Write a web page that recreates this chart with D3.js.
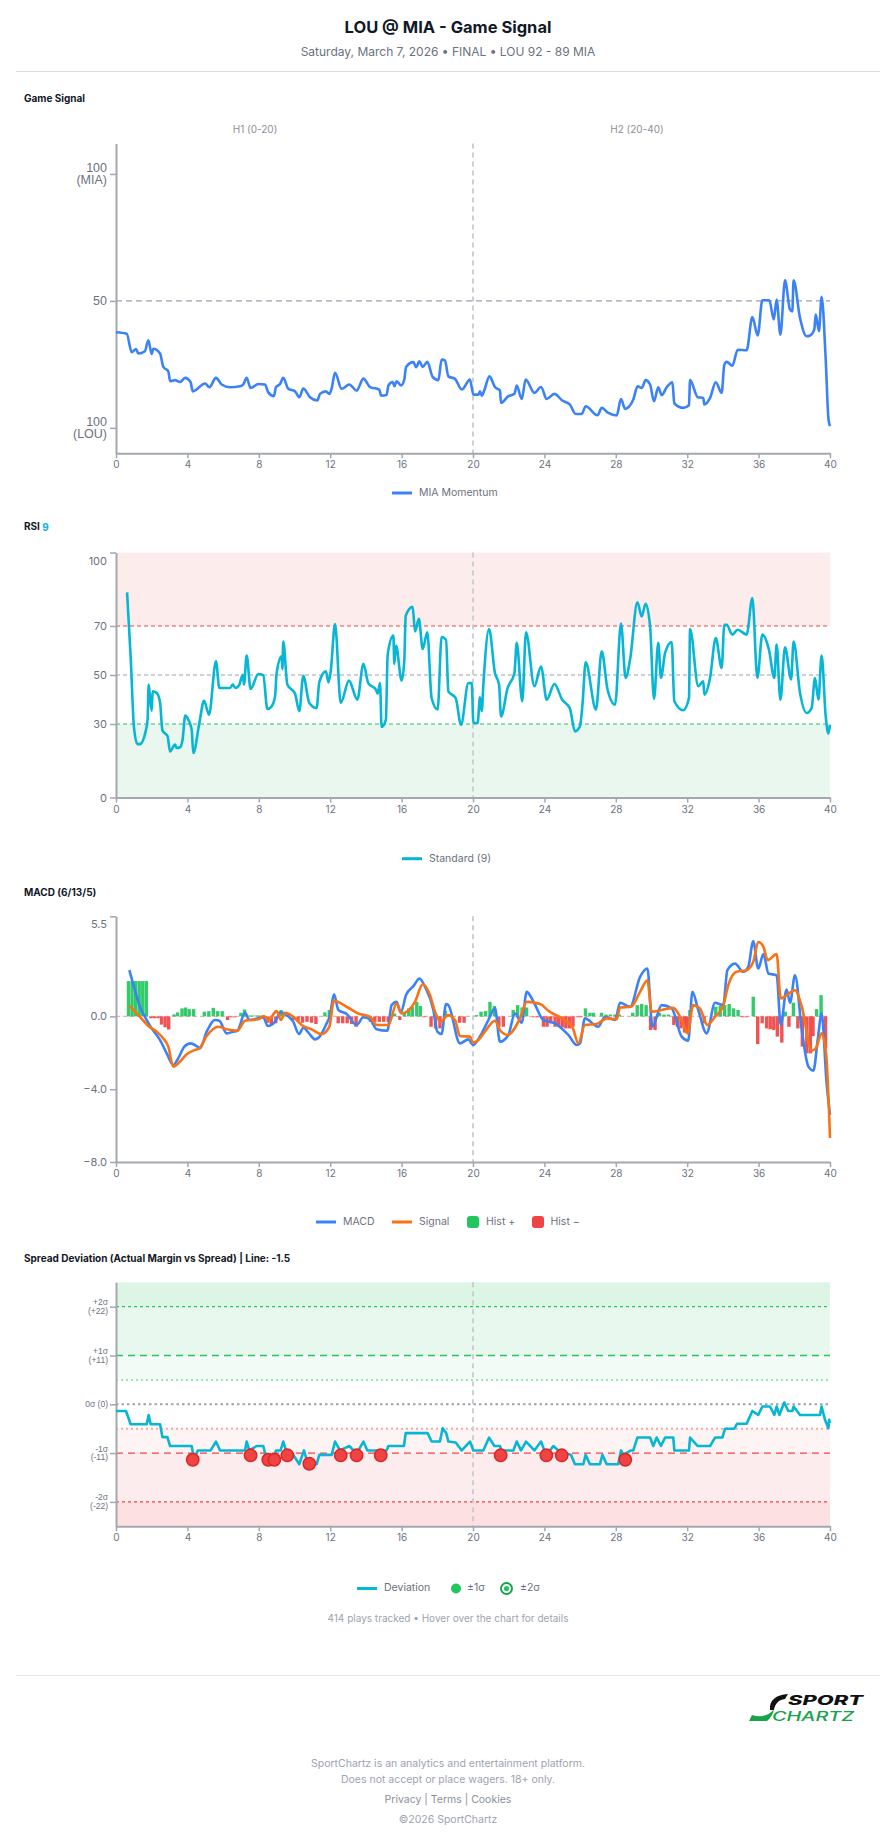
<!DOCTYPE html>
<html><head><meta charset="utf-8">
<script src="https://cdn.jsdelivr.net/npm/d3@7"></script>
<style>
body{margin:0;background:#fff;}
svg{display:block;font-family:Inter,"Noto Sans",sans-serif;}
</style></head><body>
<svg id="c" width="896" height="1845"></svg>
<script>
// ---------------- DATA ----------------
const xTicks = [0,4,8,12,16,20,24,28,32,36,40];
const halfLabels = ["H1 (0-20)", "H2 (20-40)"];
const momentumTicks = [100, 50, 0];
const momentumTickLabels = [["100","(MIA)"],["50"],["100","(LOU)"]];
// [game minute, MIA momentum 0..100]
const momentum = [
[0,37.7],[0.6,37.1],[0.88,29.8],[1.12,31.1],[1.25,29.3],[1.62,30.2],[1.81,34.5],[2.0,29.1],[2.09,31.2],[2.47,29.3],[2.65,24.0],[2.93,22.3],[3.03,18.4],[3.3,18.8],[3.59,18.1],[3.87,19.7],[4.18,18.0],[4.3,14.4],[4.99,17.5],[5.23,16.0],[5.6,19.7],[5.92,17.1],[6.39,16.0],[6.95,16.4],[7.13,17.1],[7.32,19.7],[7.54,15.7],[7.97,17.3],[8.35,17.1],[8.53,14.0],[8.85,12.5],[8.96,16.0],[9.19,17.3],[9.37,19.7],[9.65,15.4],[10.03,14.4],[10.27,12.1],[10.49,15.5],[10.87,12.1],[11.28,10.8],[11.43,13.4],[11.76,14.4],[11.95,13.4],[12.08,15.5],[12.27,21.7],[12.64,15.4],[13.07,17.1],[13.48,14.7],[13.86,19.4],[14.23,16.1],[14.75,15.1],[14.85,12.7],[15.16,13.0],[15.26,16.7],[15.5,18.1],[15.6,16.4],[15.72,18.4],[15.97,16.7],[16.15,19.0],[16.25,24.0],[16.66,25.9],[16.81,23.9],[17.0,26.2],[17.18,24.0],[17.44,26.0],[17.74,20.1],[18.06,18.8],[18.24,26.9],[18.43,26.6],[18.62,20.3],[18.99,19.3],[19.37,15.1],[19.83,19.0],[20.02,13.1],[20.3,13.1],[20.39,14.4],[20.49,12.7],[20.63,14.7],[20.92,20.3],[21.23,16.1],[21.51,14.7],[21.57,9.8],[21.98,12.5],[22.32,13.4],[22.45,16.7],[22.73,11.4],[22.95,19.0],[23.44,13.8],[23.81,16.1],[24.13,11.4],[24.56,13.4],[25.0,10.8],[25.43,9.2],[25.75,5.5],[26.09,5.5],[26.31,8.5],[26.98,5.0],[27.21,7.9],[27.58,5.9],[28.05,4.9],[28.29,11.4],[28.52,7.5],[28.98,11.2],[29.22,16.4],[29.45,15.7],[29.67,18.8],[29.92,17.1],[30.14,10.5],[30.38,16.0],[30.57,12.9],[30.85,16.0],[31.17,18.0],[31.28,9.6],[31.78,7.9],[32.1,8.9],[32.16,18.8],[32.59,12.1],[32.9,11.8],[32.96,9.2],[33.28,11.8],[33.6,18.0],[33.93,13.8],[34.08,24.9],[34.21,26.0],[34.53,24.5],[34.83,30.8],[35.33,30.6],[35.65,43.7],[35.95,36.4],[36.21,50.3],[36.6,50.3],[36.85,42.7],[37.01,50.5],[37.22,36.7],[37.48,58.1],[37.76,46.6],[37.89,45.9],[37.96,58.1],[38.32,43.3],[38.69,36.1],[38.88,36.4],[39.12,38.7],[39.2,44.6],[39.38,38.1],[39.53,51.6],[39.76,26.9],[39.91,3.9],[40.0,0.7]
];

const rsiTicks = [0,30,50,70,100];
// [game minute, RSI(9)]
const rsi = [
[0.62,83.7],[0.82,57.6],[1.01,28.4],[1.2,21.8],[1.34,21.8],[1.66,27.0],[1.77,31.8],[1.83,46.1],[1.9,41.3],[2.0,35.4],[2.05,43.3],[2.28,42.7],[2.47,38.6],[2.6,27.4],[2.89,25.0],[3.03,18.8],[3.31,21.6],[3.4,20.2],[3.59,20.5],[3.73,23.6],[3.88,33.4],[4.05,31.8],[4.24,27.7],[4.33,18.2],[4.67,30.4],[4.93,39.5],[5.21,33.8],[5.6,55.6],[5.79,44.7],[6.39,44.7],[6.54,46.1],[6.69,44.7],[6.91,46.1],[7.1,50.1],[7.17,46.1],[7.32,57.9],[7.54,44.3],[7.97,50.4],[8.25,49.9],[8.48,36.1],[8.72,37.2],[8.91,41.3],[9.0,50.8],[9.28,57.6],[9.32,52.4],[9.37,63.7],[9.6,46.1],[10.03,42.4],[10.27,35.2],[10.49,49.7],[10.83,38.6],[11.24,36.5],[11.39,47.1],[11.76,51.5],[11.9,47.0],[12.03,51.5],[12.27,70.8],[12.59,38.6],[13.05,47.7],[13.52,39.9],[13.86,54.6],[14.13,46.7],[14.56,44.0],[14.66,42.4],[14.79,46.7],[14.88,28.8],[15.12,31.8],[15.22,58.3],[15.54,66.1],[15.59,54.5],[15.69,62.0],[16.0,47.7],[16.15,55.6],[16.23,74.2],[16.62,77.8],[16.75,67.8],[16.97,72.9],[17.18,60.6],[17.44,67.4],[17.68,40.6],[18.02,35.9],[18.24,65.5],[18.49,64.4],[18.62,43.3],[19.03,40.6],[19.33,29.7],[19.74,46.7],[19.93,46.7],[20.02,30.4],[20.26,30.4],[20.39,40.9],[20.49,35.2],[20.58,46.1],[20.9,68.8],[21.23,50.8],[21.46,46.1],[21.57,33.1],[21.94,44.7],[22.32,50.8],[22.45,63.1],[22.76,39.3],[22.97,67.4],[23.44,45.4],[23.81,53.5],[24.13,39.9],[24.56,46.3],[25.0,39.9],[25.43,36.3],[25.71,27.0],[25.99,29.0],[26.14,38.6],[26.31,55.2],[26.89,35.9],[27.21,59.7],[27.54,44.0],[27.96,37.9],[28.29,71.0],[28.55,48.8],[28.8,56.3],[29.21,79.7],[29.45,73.9],[29.67,79.1],[29.92,69.9],[30.14,40.2],[30.38,63.1],[30.53,48.8],[30.76,59.0],[31.13,63.5],[31.28,39.3],[31.78,35.6],[32.1,40.6],[32.16,68.8],[32.62,45.4],[32.9,47.4],[32.96,42.0],[33.28,48.8],[33.6,65.1],[33.93,52.9],[34.08,70.5],[34.21,70.5],[34.53,66.5],[34.83,68.5],[35.33,66.5],[35.65,81.4],[35.93,48.8],[36.21,66.5],[36.58,60.3],[36.88,48.8],[37.01,62.4],[37.22,39.9],[37.48,61.3],[37.82,48.2],[37.96,63.7],[38.32,42.7],[38.69,34.5],[38.97,36.5],[39.16,48.8],[39.35,39.9],[39.53,57.9],[39.76,33.1],[39.91,26.1],[40.0,29.7]
];

const macdTicks = [5.5, 0, -4, -8];
// [game minute, MACD]
const macd = [
[0.75,2.54],[1.06,1.44],[1.34,0.53],[1.72,-0.2],[2.0,-0.66],[2.47,-1.3],[2.84,-2.03],[3.21,-2.67],[3.49,-2.3],[3.83,-1.66],[4.18,-1.48],[4.52,-1.63],[4.71,-1.75],[5.08,-0.84],[5.55,-0.2],[5.79,-0.24],[6.2,-0.93],[6.57,-0.84],[6.8,-0.79],[7.23,0.2],[7.47,-0.2],[8.25,-0.05],[8.5,-0.53],[8.91,-0.29],[9.22,0.22],[9.56,0.07],[9.93,-0.29],[10.25,-0.97],[10.5,-0.62],[10.78,-0.89],[11.15,-1.26],[11.43,-1.08],[11.76,-0.47],[11.99,0.07],[12.21,1.22],[12.46,0.35],[12.92,0.13],[13.48,-0.47],[13.86,-0.05],[14.23,-0.16],[14.6,-0.71],[15.2,-0.79],[15.44,0.62],[15.72,0.8],[15.95,0.2],[16.25,1.17],[16.66,1.66],[17.0,2.08],[17.31,1.63],[17.78,0.35],[18.0,-0.84],[18.24,-0.97],[18.49,0.68],[18.62,0.62],[19.27,-1.48],[19.74,-1.26],[20.0,-1.57],[20.49,-0.93],[20.86,-0.2],[21.23,0.44],[21.51,-1.39],[21.98,-1.02],[22.35,0.16],[22.73,-0.35],[23.01,1.35],[23.44,0.71],[23.94,-0.2],[24.59,-0.38],[25.34,-1.02],[25.81,-1.57],[26.0,-1.48],[26.27,-0.11],[27.02,-0.57],[27.39,-0.02],[27.96,-0.2],[28.24,0.75],[28.8,0.53],[29.36,2.17],[29.77,2.63],[30.05,-0.57],[30.57,0.62],[31.13,0.44],[31.69,-1.11],[32.06,-1.33],[32.29,1.35],[32.62,0.35],[33.09,-0.93],[33.56,0.75],[34.02,0.62],[34.25,2.54],[34.68,2.9],[35.14,2.45],[35.42,2.72],[35.7,4.13],[35.98,2.63],[36.27,3.42],[36.55,2.36],[37.01,2.26],[37.24,-0.47],[37.57,1.48],[37.76,0.75],[38.04,2.26],[38.42,-0.75],[38.79,-2.76],[39.07,-2.98],[39.31,-1.3],[39.53,0.16],[39.81,-3.67],[40.0,-5.41]
];
// [game minute, Signal]
const signal = [
[0.75,0.57],[1.34,-0.02],[1.81,-0.53],[2.28,-0.84],[2.65,-1.21],[2.93,-1.66],[3.21,-2.76],[3.59,-2.48],[3.96,-2.08],[4.33,-1.88],[4.67,-1.75],[5.08,-1.08],[5.73,-0.57],[6.2,-0.71],[6.8,-0.79],[7.23,-0.24],[7.97,-0.16],[8.29,0.02],[8.53,-0.2],[9.0,0.29],[9.24,-0.2],[9.47,0.2],[9.93,-0.02],[10.4,-0.47],[10.96,-0.71],[11.52,-0.97],[11.95,-0.57],[12.21,0.86],[12.92,0.53],[13.57,0.16],[14.23,-0.02],[14.6,-0.47],[15.26,-0.47],[15.72,0.71],[16.0,0.16],[16.75,0.8],[17.18,1.77],[17.59,1.17],[17.87,0.26],[18.19,-0.29],[18.6,0.07],[18.99,-0.2],[19.27,-1.08],[19.83,-1.11],[20.0,-1.44],[20.3,-1.3],[20.67,-0.84],[21.23,-0.24],[21.51,-0.75],[21.94,-1.02],[22.63,-0.11],[23.01,0.8],[23.76,0.68],[24.22,0.31],[24.97,-0.11],[25.56,-0.57],[25.9,-1.48],[26.27,-0.47],[26.93,-0.42],[27.49,-0.11],[28.05,-0.16],[28.24,0.49],[28.85,0.53],[29.36,1.35],[29.77,1.99],[30.01,0.26],[30.57,0.35],[31.22,0.47],[31.69,-0.2],[32.02,-0.93],[32.34,0.62],[32.71,0.44],[33.13,-0.47],[33.56,-0.02],[34.02,0.57],[34.3,1.72],[34.77,2.45],[35.33,2.54],[35.7,3.0],[35.98,4.09],[36.27,3.82],[36.51,3.09],[37.01,3.42],[37.24,0.99],[38.04,1.44],[38.42,0.53],[38.97,-1.88],[39.21,-1.75],[39.53,-0.93],[39.78,-2.03],[40.0,-6.68]
];
// [game minute, histogram]
const hist = [
[0.7,1.94],[0.9,1.94],[1.1,1.94],[1.3,1.94],[1.5,1.94],[1.7,1.94],[1.95,-0.1],[2.15,-0.1],[2.35,-0.1],[2.55,-0.45],[2.75,-0.6],[2.95,-0.72],
[3.25,0.11],[3.45,0.22],[3.7,0.44],[3.9,0.49],[4.1,0.4],[4.35,0.4],[4.95,0.26],[5.2,0.29],[5.45,0.47],[5.7,0.29],[5.95,0.29],
[6.25,-0.2],[6.45,-0.05],[6.65,-0.05],[7.0,0.2],[7.2,0.38],[7.45,0.05],[7.65,0.05],[7.85,0.05],[8.05,0.05],[8.25,0.05],
[8.5,-0.35],[8.7,-0.42],[8.95,-0.38],[9.25,0.35],[9.95,-0.2],[10.2,-0.27],[10.45,-0.35],[10.7,-0.3],[10.95,-0.35],[11.2,-0.42],
[11.7,0.22],[11.95,0.35],[12.45,-0.38],[12.7,-0.38],[12.95,-0.38],[13.2,-0.42],[13.45,-0.57],
[14.25,-0.3],[14.5,-0.3],[14.75,-0.3],[15.0,-0.3],[15.25,-0.3],[15.6,0.16],[15.9,-0.2],
[16.15,0.26],[16.4,0.44],[16.6,0.53],[16.85,0.8],[17.05,0.57],[17.25,-0.05],[17.65,-0.57],[17.9,-0.66],[18.15,-0.66],[18.45,0.3],
[19.25,-0.35],[19.5,-0.35],[20.2,0.07],[20.45,0.26],[20.7,0.29],[20.95,0.8],[21.2,0.57],[21.45,-0.57],[21.7,-0.57],
[22.25,0.35],[22.5,0.62],[22.75,0.49],[23.0,0.49],[23.4,-0.05],[23.6,-0.05],
[23.95,-0.57],[24.15,-0.57],[24.35,-0.38],[24.6,-0.57],[24.8,-0.57],[25.0,-0.6],[25.2,-0.66],[25.4,-0.66],[25.6,-0.57],[25.85,-0.05],[26.05,-0.05],
[26.3,0.44],[26.55,0.2],[26.75,0.2],[27.2,0.2],[27.45,0.1],[27.7,0.1],[27.95,0.1],[28.2,0.1],
[28.95,0.2],[29.2,0.62],[29.45,0.68],[29.7,0.62],[29.95,-0.75],[30.2,-0.75],[30.45,0.2],[30.7,0.1],[30.95,0.1],
[31.25,-0.47],[31.45,-0.57],[31.65,-0.66],[31.85,-0.89],[32.0,-0.93],[32.15,0.35],[32.95,-0.38],
[33.6,0.53],[33.85,0.57],[34.1,0.62],[34.35,0.68],[34.6,0.44],[34.85,0.35],[35.1,-0.05],[35.3,-0.05],[35.7,1.08],
[35.95,-1.52],[36.2,-0.38],[36.45,-0.66],[36.65,-0.71],[36.85,-0.75],[37.05,-1.11],[37.3,-1.44],[37.5,0.26],[37.7,-0.57],[37.95,0.75],
[38.2,-0.66],[38.45,-1.66],[38.7,-2.03],[38.9,-2.03],[39.05,-1.08],[39.25,0.4],[39.5,1.17],[39.75,-1.75]
];

const spreadTicks = [22, 11, 0, -11, -22];
const spreadTickLabels = [["+2σ","(+22)"],["+1σ","(+11)"],["0σ (0)"],["-1σ","(-11)"],["-2σ","(-22)"]];
// [game minute, deviation (actual margin vs spread)]
const deviation = [
[0,-1.5],[0.56,-1.5],[0.82,-4.5],[1.72,-4.5],[1.83,-2.4],[1.94,-4.5],[2.47,-4.5],[2.6,-7.4],[2.88,-7.4],[3.03,-9.4],[4.24,-9.4],[4.37,-12.5],[4.58,-10.4],[5.3,-10.4],[5.6,-8.4],[5.83,-10.4],[7.23,-10.4],[7.32,-8.4],[7.47,-10.4],[7.88,-9.4],[8.25,-9.4],[8.44,-12.5],[8.85,-12.5],[8.96,-10.4],[9.22,-10.4],[9.37,-8.4],[9.52,-10.4],[9.93,-11.4],[10.27,-13.5],[10.53,-10.4],[10.68,-12.5],[11.24,-13.5],[11.39,-11.4],[12.08,-11.4],[12.27,-8.4],[12.55,-10.4],[13.07,-9.4],[13.3,-10.4],[13.58,-10.4],[13.86,-8.4],[14.08,-10.4],[15.16,-10.4],[15.26,-9.4],[16.13,-9.4],[16.23,-6.5],[17.46,-6.5],[17.68,-8.4],[18.15,-8.4],[18.3,-5.4],[18.5,-6.5],[18.62,-8.4],[19.03,-8.6],[19.37,-10.4],[19.83,-8.4],[20.02,-10.4],[20.58,-10.4],[20.9,-7.5],[21.2,-9.4],[21.51,-9.4],[21.6,-10.4],[22.26,-10.4],[22.45,-8.4],[22.69,-10.4],[22.97,-8.4],[23.44,-10.4],[23.81,-8.4],[24.09,-11.4],[24.31,-10.4],[24.5,-9.4],[24.78,-10.4],[25.49,-11.4],[25.71,-13.5],[26.18,-13.5],[26.31,-11.4],[26.55,-13.5],[27.11,-13.5],[27.25,-11.4],[27.49,-13.5],[28.14,-13.5],[28.29,-10.4],[28.42,-11.4],[28.85,-10.4],[28.98,-10.4],[29.21,-7.5],[29.92,-7.5],[30.1,-9.4],[30.29,-7.5],[30.53,-9.4],[30.76,-7.5],[31.22,-7.5],[31.28,-10.4],[32.1,-10.4],[32.16,-7.5],[32.59,-9.4],[33.28,-9.4],[33.56,-7.5],[33.97,-7.5],[34.12,-5.5],[34.64,-5.5],[34.79,-4.4],[35.33,-4.4],[35.65,-1.5],[35.98,-2.4],[36.21,-0.5],[36.64,-0.5],[36.88,-2.4],[37.01,-0.5],[37.16,-2.4],[37.44,0.4],[37.66,-1.5],[37.89,-1.5],[37.96,-0.5],[38.32,-2.4],[39.44,-2.4],[39.53,-0.5],[39.72,-3.5],[39.91,-5.4],[39.95,-3.5],[40.0,-4.3]
];
// [game minute, deviation] for the -1σ alert plays
const alerts = [
[4.3,-12.5],[7.54,-11.5],[8.53,-12.5],[8.87,-12.5],[9.6,-11.5],[10.83,-13.4],[12.59,-11.5],[13.48,-11.5],[14.83,-11.5],[21.55,-11.5],[24.11,-11.5],[24.97,-11.5],[28.53,-12.5]
];

// ---------------- DRAW ----------------
const svg = d3.select('#c');
svg.append('rect').attr('width',896).attr('height',1845).attr('fill','#fff');
const X0 = 116, X1 = 830;
const x = d3.scaleLinear().domain([0,40]).range([X0, X1]);
const AX = '#a3a7ae', LBL = '#6b7280';

function styleAxis(g, fs){
  g.select('.domain').attr('stroke', AX).attr('stroke-width', 2);
  g.selectAll('.tick line').attr('stroke', AX).attr('stroke-width', 1.5);
  g.selectAll('.tick text').attr('fill', LBL).attr('font-size', fs).attr('font-family','Inter,sans-serif');
}
function xAxis(yPos){
  const g = svg.append('g').attr('transform',`translate(0,${yPos})`)
    .call(d3.axisBottom(x).tickValues(xTicks).tickSize(5).tickSizeOuter(0).tickPadding(3));
  styleAxis(g, 10);
}
function halfLine(y){
  svg.append('line').attr('x1',x(20)).attr('x2',x(20)).attr('y1',y.range()[1]).attr('y2',y.range()[0])
    .attr('stroke','#c9cbd0').attr('stroke-width',1.8).attr('stroke-dasharray','5,4');
}
function hline(y, v, color, dash, w){
  svg.append('line').attr('x1',X0).attr('x2',X1).attr('y1',y(v)).attr('y2',y(v))
    .attr('stroke',color).attr('stroke-width',w||1.2).attr('stroke-dasharray',dash);
}
function sectionTitle(txt, yPos){
  return svg.append('text').attr('x',24).attr('y',yPos).attr('dominant-baseline','middle')
    .attr('font-size',10).attr('font-weight',700).attr('fill','#111827').text(txt);
}
function legendLine(x0, yPos, color, label){
  svg.append('line').attr('x1',x0).attr('x2',x0+20).attr('y1',yPos).attr('y2',yPos)
    .attr('stroke',color).attr('stroke-width',3);
  svg.append('text').attr('x',x0+27).attr('y',yPos).attr('dominant-baseline','middle')
    .attr('font-size',10.5).attr('fill',LBL).text(label);
}

// Header
svg.append('text').attr('x',448).attr('y',28).attr('text-anchor','middle').attr('dominant-baseline','middle')
  .attr('font-size',16.5).attr('font-weight',700).attr('fill','#111827').text('LOU @ MIA - Game Signal');
svg.append('text').attr('x',448).attr('y',52.5).attr('text-anchor','middle').attr('dominant-baseline','middle')
  .attr('font-size',12).attr('fill','#6b7280').text('Saturday, March 7, 2026 • FINAL • LOU 92 - 89 MIA');
svg.append('line').attr('x1',16).attr('x2',880).attr('y1',71.5).attr('y2',71.5).attr('stroke','#d9dbe0').attr('stroke-width',1);

// ===== Chart 1: Game Signal =====
sectionTitle('Game Signal', 99);
const y1 = d3.scaleLinear().domain([-10,112]).range([453.3,143.5]);
svg.append('text').attr('x',255).attr('y',130.5).attr('text-anchor','middle').attr('dominant-baseline','middle')
  .attr('font-size',10).attr('fill','#8b9099').text(halfLabels[0]);
svg.append('text').attr('x',637).attr('y',130.5).attr('text-anchor','middle').attr('dominant-baseline','middle')
  .attr('font-size',10).attr('fill','#8b9099').text(halfLabels[1]);
hline(y1, 50, '#9ca3af', '6,4', 1.2);
halfLine(y1);
{
  const g = svg.append('g').attr('transform',`translate(${X0},0)`)
    .call(d3.axisLeft(y1).tickValues(momentumTicks).tickSize(6).tickSizeOuter(0).tickFormat(''));
  styleAxis(g, 12);
  g.selectAll('.tick').each(function(d,i){
    const lines = momentumTickLabels[i];
    const t = d3.select(this).append('text').attr('fill',LBL).attr('font-size',12.5)
      .attr('text-anchor','end').attr('dominant-baseline','middle');
    if(lines.length===1){ t.attr('x',-9).attr('y',0).text(lines[0]); }
    else {
      t.append('tspan').attr('x',-9).attr('y',-5.5).text(lines[0]);
      t.append('tspan').attr('x',-9).attr('y',6.5).text(lines[1]);
    }
  });
}
xAxis(453.3);
svg.append('path').datum(momentum)
  .attr('d', d3.line().x(d=>x(d[0])).y(d=>y1(d[1])).curve(d3.curveMonotoneX))
  .attr('fill','none').attr('stroke','#3b82f6').attr('stroke-width',2.6).attr('stroke-linejoin','round');
legendLine(392, 493, '#3b82f6', 'MIA Momentum');

// ===== Chart 2: RSI =====
{
  const t = sectionTitle('RSI ', 527.5);
  t.append('tspan').attr('fill','#06b6d4').text('9');
}
const y2 = d3.scaleLinear().domain([0,100]).range([797.5,552.5]);
svg.append('rect').attr('x',X0).attr('width',X1-X0).attr('y',y2(100)).attr('height',y2(70)-y2(100)).attr('fill','#fdecec');
svg.append('rect').attr('x',X0).attr('width',X1-X0).attr('y',y2(30)).attr('height',y2(0)-y2(30)).attr('fill','#e9f7ee');
hline(y2, 70, '#ef4444', '4,3', 1.2);
hline(y2, 50, '#9ca3af', '4,3', 1.2);
hline(y2, 30, '#22c55e', '4,3', 1.2);
halfLine(y2);
{
  const g = svg.append('g').attr('transform',`translate(${X0},0)`)
    .call(d3.axisLeft(y2).tickValues(rsiTicks).tickSize(6).tickSizeOuter(0).tickPadding(3));
  styleAxis(g, 11);
  g.selectAll('.tick text').filter(d=>d===100).attr('dy','1.05em');
}
xAxis(797.5);
svg.append('path').datum(rsi)
  .attr('d', d3.line().x(d=>x(d[0])).y(d=>y2(d[1])).curve(d3.curveMonotoneX))
  .attr('fill','none').attr('stroke','#06b6d4').attr('stroke-width',2.6).attr('stroke-linejoin','round');
legendLine(402, 858.7, '#06b6d4', 'Standard (9)');

// ===== Chart 3: MACD =====
sectionTitle('MACD (6/13/5)', 893);
const y3 = d3.scaleLinear().domain([-8,5.5]).range([1162,916.3]);
hline(y3, 0, '#e3b3b6', '4,3', 1.2);
halfLine(y3);
const bw = x(0.19) - x(0);
svg.append('g').selectAll('rect').data(hist).join('rect')
  .attr('x', d=>x(d[0]) - bw/2).attr('width', bw)
  .attr('y', d=>Math.min(y3(d[1]), y3(0))).attr('height', d=>Math.abs(y3(d[1]) - y3(0)))
  .attr('fill', d=>d[1]>=0 ? '#22c55e' : '#ef4444').attr('opacity',0.92);
{
  const g = svg.append('g').attr('transform',`translate(${X0},0)`)
    .call(d3.axisLeft(y3).tickValues(macdTicks).tickSize(6).tickSizeOuter(0).tickPadding(3).tickFormat(d3.format('.1f')));
  styleAxis(g, 11);
  g.selectAll('.tick text').filter(d=>d===5.5).attr('dy','1.0em');
}
xAxis(1162);
svg.append('path').datum(macd)
  .attr('d', d3.line().x(d=>x(d[0])).y(d=>y3(d[1])).curve(d3.curveMonotoneX))
  .attr('fill','none').attr('stroke','#3b82f6').attr('stroke-width',2.6).attr('stroke-linejoin','round');
svg.append('path').datum(signal)
  .attr('d', d3.line().x(d=>x(d[0])).y(d=>y3(d[1])).curve(d3.curveMonotoneX))
  .attr('fill','none').attr('stroke','#f97316').attr('stroke-width',2.6).attr('stroke-linejoin','round');
legendLine(316, 1222, '#3b82f6', 'MACD');
legendLine(392, 1222, '#f97316', 'Signal');
svg.append('rect').attr('x',467).attr('y',1216).attr('width',12).attr('height',12).attr('rx',3).attr('fill','#22c55e');
svg.append('text').attr('x',486).attr('y',1222).attr('dominant-baseline','middle').attr('font-size',10.5).attr('fill',LBL).text('Hist +');
svg.append('rect').attr('x',532).attr('y',1216).attr('width',12).attr('height',12).attr('rx',3).attr('fill','#ef4444');
svg.append('text').attr('x',550.5).attr('y',1222).attr('dominant-baseline','middle').attr('font-size',10.5).attr('fill',LBL).text('Hist −');

// ===== Chart 4: Spread Deviation =====
sectionTitle('Spread Deviation (Actual Margin vs Spread) | Line: -1.5', 1259);
const y4 = d3.scaleLinear().domain([-27.5,27.5]).range([1526.3,1282.3]);
const bands = [[22,27.5,'#dcf5e4'],[11,22,'#e8f8ee'],[5.5,11,'#f3fbf6'],[-11,-5.5,'#fef4f4'],[-22,-11,'#fdeced'],[-27.5,-22,'#fde0e2']];
bands.forEach(b=>{
  svg.append('rect').attr('x',X0).attr('width',X1-X0).attr('y',y4(b[1])).attr('height',y4(b[0])-y4(b[1])).attr('fill',b[2]);
});
hline(y4, 22, '#22c55e', '3,3', 1.2);
hline(y4, 11, '#22c55e', '7,5', 1.3);
hline(y4, 5.5, '#86efac', '2,3', 2);
hline(y4, 0, '#9ca3af', '2.5,3', 2);
hline(y4, -5.5, '#fca5a5', '2,3', 2);
hline(y4, -11, '#ef4444', '7,5', 1.2);
hline(y4, -22, '#ef4444', '3,3', 1.2);
halfLine(y4);
{
  const g = svg.append('g').attr('transform',`translate(${X0},0)`)
    .call(d3.axisLeft(y4).tickValues(spreadTicks).tickSize(6).tickSizeOuter(0).tickFormat(''));
  styleAxis(g, 8.5);
  g.selectAll('.tick').each(function(d,i){
    const lines = spreadTickLabels[i];
    const t = d3.select(this).append('text').attr('fill',LBL).attr('font-size',8.5)
      .attr('text-anchor','end').attr('dominant-baseline','middle');
    if(lines.length===1){ t.attr('x',-8).attr('y',0).text(lines[0]); }
    else {
      t.append('tspan').attr('x',-8).attr('y',-4).text(lines[0]);
      t.append('tspan').attr('x',-8).attr('y',4.5).text(lines[1]);
    }
  });
}
xAxis(1526.3);
svg.append('path').datum(deviation)
  .attr('d', d3.line().x(d=>x(d[0])).y(d=>y4(d[1])))
  .attr('fill','none').attr('stroke','#06b6d4').attr('stroke-width',2.6).attr('stroke-linejoin','round');
svg.append('g').selectAll('circle').data(alerts).join('circle')
  .attr('cx', d=>x(d[0])).attr('cy', d=>y4(d[1])).attr('r',6.2)
  .attr('fill','#ef4444').attr('stroke','#dc2626').attr('stroke-width',1.5);
legendLine(357, 1588.5, '#06b6d4', 'Deviation');
svg.append('circle').attr('cx',456).attr('cy',1588.5).attr('r',5).attr('fill','#22c55e');
svg.append('text').attr('x',467).attr('y',1588.5).attr('dominant-baseline','middle').attr('font-size',10.5).attr('fill',LBL).text('±1σ');
svg.append('circle').attr('cx',506.5).attr('cy',1588.5).attr('r',5.5).attr('fill','#fff').attr('stroke','#16a34a').attr('stroke-width',2);
svg.append('circle').attr('cx',506.5).attr('cy',1588.5).attr('r',2.6).attr('fill','#22c55e');
svg.append('text').attr('x',520).attr('y',1588.5).attr('dominant-baseline','middle').attr('font-size',10.5).attr('fill',LBL).text('±2σ');
svg.append('text').attr('x',448).attr('y',1619).attr('text-anchor','middle').attr('dominant-baseline','middle')
  .attr('font-size',10).attr('fill','#9ca3af').text('414 plays tracked • Hover over the chart for details');

// ===== Footer =====
svg.append('line').attr('x1',16).attr('x2',880).attr('y1',1675.5).attr('y2',1675.5).attr('stroke','#e5e7eb').attr('stroke-width',1);
const logo = svg.append('g');
logo.append('path').attr('d','M770 1710 C769 1700 776 1695 788 1694 L785 1699 C778 1700 775 1704 774 1710 Z').attr('fill','#111');
logo.append('path').attr('d','M749 1721 L767 1721 C771 1718 773 1714 774 1709 C769 1716 760 1718 752 1715 Z').attr('fill','#16a34a');
logo.append('text').attr('x',788).attr('y',1705).attr('font-size',13).attr('font-weight',800).attr('font-style','italic')
  .attr('fill','#111').attr('textLength',75).attr('lengthAdjust','spacingAndGlyphs').text('SPORT');
logo.append('text').attr('x',772).attr('y',1721).attr('font-size',13).attr('font-weight',500).attr('font-style','italic')
  .attr('fill','#16a34a').attr('textLength',82).attr('lengthAdjust','spacingAndGlyphs').text('CHARTZ');
const foot = [['SportChartz is an analytics and entertainment platform.',1764,'#9ca3af'],['Does not accept or place wagers. 18+ only.',1780,'#9ca3af'],['Privacy  |  Terms  |  Cookies',1800,'#8b9099'],['©2026 SportChartz',1820,'#9ca3af']];
foot.forEach(f=>{
  svg.append('text').attr('x',448).attr('y',f[1]).attr('text-anchor','middle').attr('dominant-baseline','middle')
    .attr('font-size',10.5).attr('fill',f[2]).text(f[0]);
});
</script>
</body></html>
